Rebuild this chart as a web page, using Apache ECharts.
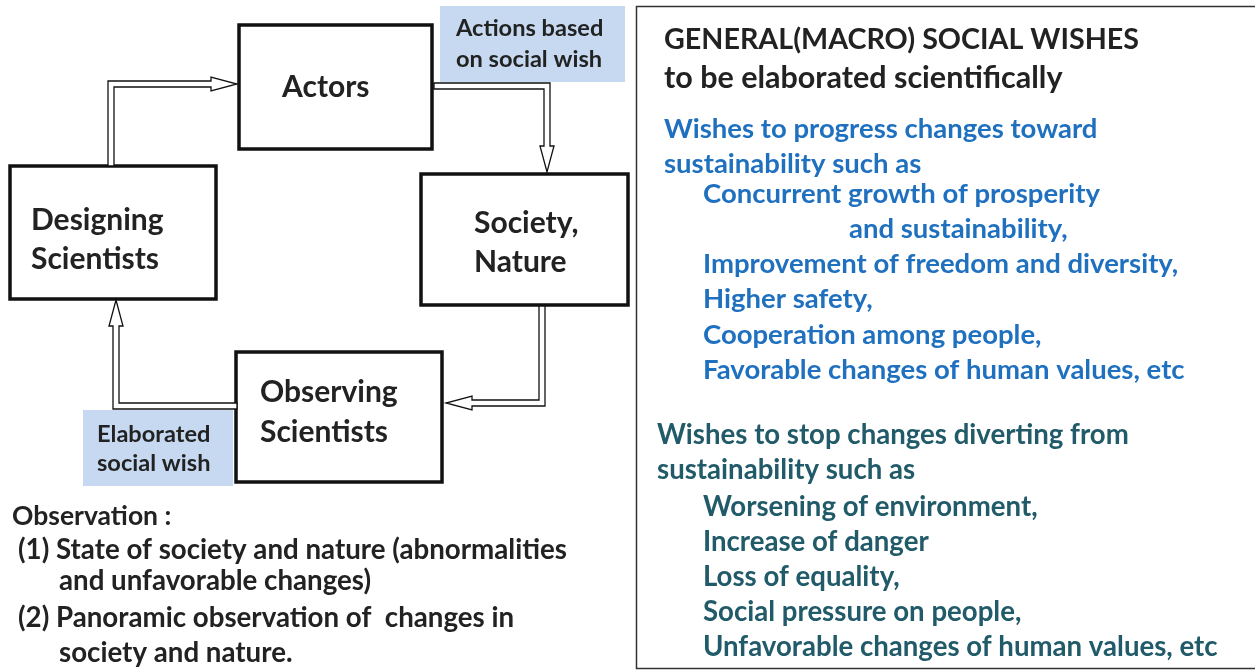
<!DOCTYPE html>
<html>
<head>
<meta charset="utf-8">
<script src="https://cdn.jsdelivr.net/npm/echarts@6/dist/echarts.min.js"></script>
<style>html,body{margin:0;padding:0;background:#fff;}#c{width:1255px;height:671px;}</style>
</head>
<body>
<div id="c"></div>
<script>
// ---- content (text data) ----
const boxLabels = ['Actors', 'Designing\nScientists', 'Society,\nNature', 'Observing\nScientists'];
const noteLabels = ['Actions based\non social wish', 'Elaborated\nsocial wish'];
const observationLines = [
  'Observation :',
  '(1) State of society and nature (abnormalities',
  'and unfavorable changes)',
  '(2) Panoramic observation of  changes in',
  'society and nature.'
];
const panelTitle = ['GENERAL(MACRO) SOCIAL WISHES', 'to be elaborated scientifically'];
const progressWishes = [
  'Wishes to progress changes toward',
  'sustainability such as',
  'Concurrent growth of prosperity',
  'and sustainability,',
  'Improvement of freedom and diversity,',
  'Higher safety,',
  'Cooperation among people,',
  'Favorable changes of human values, etc'
];
const stopWishes = [
  'Wishes to stop changes diverting from',
  'sustainability such as',
  'Worsening of environment,',
  'Increase of danger',
  'Loss of equality,',
  'Social pressure on people,',
  'Unfavorable changes of human values, etc'
];
// flow order: which box feeds which
const flowLinks = [[1, 0], [0, 2], [2, 3], [3, 1]];

// ---- layout (positions/styles, kept separate from content) ----
const FONT = 'Lato, "Open Sans", sans-serif';
const layout = {
  boxes: [
    {x: 239, y: 25, w: 193, h: 124, tx: 282, ty: [87]},
    {x: 10, y: 166, w: 206, h: 133, tx: 31, ty: [220, 259]},
    {x: 421, y: 174, w: 207, h: 131, tx: 474, ty: [223, 262]},
    {x: 236, y: 352, w: 206, h: 130, tx: 260, ty: [392, 432]}
  ],
  notes: [
    {x: 440, y: 6, w: 185, h: 76, tx: 456, ty: [28, 59]},
    {x: 83, y: 410, w: 150, h: 76, tx: 97, ty: [434, 463]}
  ],
  arrows: [
    [[111, 166], [111, 84], [237, 84]],
    [[434, 86], [547, 86], [547, 172]],
    [[542, 306], [542, 403], [446, 403]],
    [[237, 406], [116, 406], [116, 300]]
  ],
  obs: {x: [12, 18, 59, 18, 59], y: [516, 550, 581, 618, 653], size: [26.5, 27.7, 27.7, 27.7, 27.7]},
  panel: {x: 636, y: 6, w: 620, h: 662},
  title: {x: 664, y: [40, 78], size: [28.7, 30.5]},
  prog: {x: [664, 664, 703, 849, 703, 703, 703, 703], y: [129, 164, 194, 229, 264, 299, 335, 370], size: 27.5},
  stop: {x: [657, 657, 703, 703, 703, 703, 703], y: [435, 470, 507, 542, 577, 612, 647], size: 27.6},
  boxFont: 30,
  noteFont: 23.6
};

// ---- build items ----
const items = [];
items.push({kind: 'panel'});
boxLabels.forEach((t, i) => items.push({kind: 'box', i, text: t}));
noteLabels.forEach((t, i) => items.push({kind: 'note', i, text: t}));
flowLinks.forEach((l, i) => items.push({kind: 'arrow', i}));
observationLines.forEach((t, i) => items.push({kind: 'text', text: t, x: layout.obs.x[i], y: layout.obs.y[i], size: layout.obs.size[i], color: '#222'}));
panelTitle.forEach((t, i) => items.push({kind: 'text', text: t, x: layout.title.x, y: layout.title.y[i], size: layout.title.size[i], color: '#222'}));
progressWishes.forEach((t, i) => items.push({kind: 'text', text: t, x: layout.prog.x[i], y: layout.prog.y[i], size: layout.prog.size, color: '#1F70BF'}));
stopWishes.forEach((t, i) => items.push({kind: 'text', text: t, x: layout.stop.x[i], y: layout.stop.y[i], size: layout.stop.size, color: '#215A68'}));

function arrowPolygon(pts, hw, headLen, headHw) {
  const n = pts.length;
  const tip = pts[n - 1];
  const prev = pts[n - 2];
  const dx = tip[0] - prev[0], dy = tip[1] - prev[1];
  const len = Math.hypot(dx, dy);
  const ux = dx / len, uy = dy / len;
  const base = [tip[0] - ux * headLen, tip[1] - uy * headLen];
  const path = pts.slice(0, n - 1).concat([base]);
  const normals = [];
  for (let k = 0; k < path.length - 1; k++) {
    const ex = path[k + 1][0] - path[k][0], ey = path[k + 1][1] - path[k][1];
    const el = Math.hypot(ex, ey);
    normals.push([-ey / el, ex / el]);
  }
  const left = [], right = [];
  for (let k = 0; k < path.length; k++) {
    let nx, ny;
    if (k === 0) { nx = normals[0][0]; ny = normals[0][1]; }
    else if (k === path.length - 1) { nx = normals[k - 1][0]; ny = normals[k - 1][1]; }
    else { nx = normals[k - 1][0] + normals[k][0]; ny = normals[k - 1][1] + normals[k][1]; }
    left.push([path[k][0] + nx * hw, path[k][1] + ny * hw]);
    right.push([path[k][0] - nx * hw, path[k][1] - ny * hw]);
  }
  const nL = normals[normals.length - 1];
  const poly = left.slice();
  poly.push([base[0] + nL[0] * headHw, base[1] + nL[1] * headHw]);
  poly.push(tip);
  poly.push([base[0] - nL[0] * headHw, base[1] - nL[1] * headHw]);
  return poly.concat(right.reverse());
}

function renderItem(params, api) {
  const it = items[params.dataIndex];
  const c = (x, y) => api.coord([x, y]);
  if (it.kind === 'panel') {
    const p = layout.panel;
    const a = c(p.x, p.y), b = c(p.x + p.w, p.y + p.h);
    return {type: 'rect', shape: {x: a[0] + 0.5, y: a[1] + 0.5, width: b[0] - a[0], height: b[1] - a[1]},
      style: {fill: 'none', stroke: '#333', lineWidth: 1.5}};
  }
  if (it.kind === 'box' || it.kind === 'note') {
    const L = it.kind === 'box' ? layout.boxes[it.i] : layout.notes[it.i];
    const a = c(L.x, L.y), b = c(L.x + L.w, L.y + L.h);
    const lines = it.text.split('\n');
    const children = [{type: 'rect', shape: {x: a[0], y: a[1], width: b[0] - a[0], height: b[1] - a[1]},
      style: it.kind === 'box' ? {fill: '#fff', stroke: '#111', lineWidth: 3.5} : {fill: '#C6D9F0', stroke: 'none'}}];
    lines.forEach((ln, j) => {
      const p = c(L.tx, L.ty[j]);
      children.push({type: 'text', style: {text: ln, x: p[0], y: p[1], fill: '#222',
        font: 'bold ' + (it.kind === 'box' ? layout.boxFont : layout.noteFont) + 'px ' + FONT, align: 'left', verticalAlign: 'middle'}});
    });
    return {type: 'group', children};
  }
  if (it.kind === 'arrow') {
    const pts = layout.arrows[it.i].map(p => c(p[0], p[1]));
    return {type: 'polygon', shape: {points: arrowPolygon(pts, 3, 26, 7)},
      style: {fill: '#fff', stroke: '#111', lineWidth: 1.3, lineJoin: 'miter'}};
  }
  if (it.kind === 'text') {
    const p = c(it.x, it.y);
    return {type: 'text', style: {text: it.text, x: p[0], y: p[1], fill: it.color,
      font: 'bold ' + it.size + 'px ' + FONT, align: 'left', verticalAlign: 'middle'}};
  }
  return null;
}

const chart = echarts.init(document.getElementById('c'), null, {renderer: 'canvas'});
chart.setOption({
  animation: false,
  backgroundColor: '#fff',
  grid: {left: 0, right: 0, top: 0, bottom: 0},
  xAxis: {type: 'value', min: 0, max: 1255, show: false},
  yAxis: {type: 'value', min: 0, max: 671, inverse: true, show: false},
  series: [{
    type: 'custom',
    renderItem,
    clip: false,
    data: items.map((it, i) => [i, 0]),
    encode: {x: 0, y: 1},
    silent: true
  }]
});
</script>
</body>
</html>
